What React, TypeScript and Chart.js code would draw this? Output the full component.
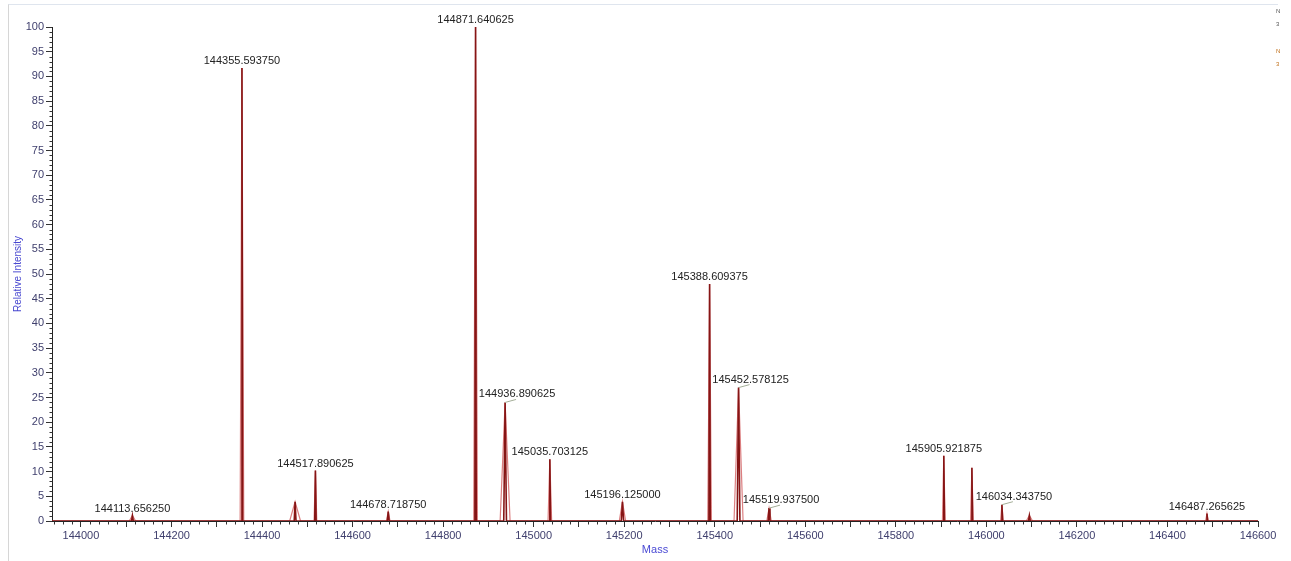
import React, { useEffect, useRef } from "react";
import { Chart, registerables } from "chart.js";

Chart.register(...registerables);

// Peak data
const peakMass = [
  144113.65625, 144355.59375, 144473, 144517.890625, 144678.71875, 144871.640625,
  144936.890625, 145035.703125, 145196.125, 145388.609375, 145452.578125,
  145519.9375, 145905.921875, 145968, 146034.34375, 146095, 146487.265625,
];
const peakHeight = [1.1, 91.7, 3.9, 10.2, 1.9, 100, 24, 12.5, 3.9, 48, 27, 2.6, 13.2, 10.8, 3.3, 1.1, 1.5];
// half width of the profile peak at its base (mass units)
const profileHalfWidth = [7, 4, 12, 3, 4, 4, 11, 4, 7, 4, 10, 5, 3, 3, 3, 7, 3];
// half width of the dark centroid core (mass units)
const coreHalfWidth = [2, 1.5, 2, 1.5, 2, 1.5, 3, 1.5, 2.5, 1.5, 3, 2, 1.5, 1.5, 1.5, 2, 1.5];
const peakLabels = [
  "144113.656250", "144355.593750", "", "144517.890625", "144678.718750", "144871.640625",
  "144936.890625", "145035.703125", "145196.125000", "145388.609375", "145452.578125",
  "145519.937500", "145905.921875", "", "146034.343750", "", "146487.265625",
];
const leaderLabelIdx = [6, 10, 11, 14];

const massMin = 143936;
const massMax = 146600;
const xTickStep = 100;
const xLabelStep = 200;
const yTickStep = 5;

const FONT = "'Liberation Sans', Arial, sans-serif";

function buildSeries(halfWidths: number[]) {
  const pts: { x: number; y: number }[] = [{ x: massMin, y: 0 }];
  peakMass.forEach((m, i) => {
    pts.push({ x: m - halfWidths[i], y: 0 });
    pts.push({ x: m, y: peakHeight[i] });
    pts.push({ x: m + halfWidths[i], y: 0 });
  });
  pts.push({ x: massMax, y: 0 });
  return pts;
}

const decorPlugin = {
  id: "decor",
  afterDatasetsDraw(chart: any) {
    const { ctx, scales } = chart;
    const xs = scales.x;
    const ys = scales.y;
    ctx.save();
    // peak labels
    ctx.font = `11px ${FONT}`;
    ctx.fillStyle = "#222222";
    ctx.textAlign = "center";
    ctx.textBaseline = "alphabetic";
    peakMass.forEach((m, i) => {
      const label = peakLabels[i];
      if (!label) return;
      const px = xs.getPixelForValue(m);
      const py = ys.getPixelForValue(peakHeight[i]);
      if (leaderLabelIdx.includes(i)) {
        ctx.strokeStyle = "#a4ae98";
        ctx.lineWidth = 1;
        ctx.beginPath();
        ctx.moveTo(px, py);
        ctx.lineTo(px + 11, py - 3);
        ctx.stroke();
        ctx.fillText(label, px + 12, py - 5);
      } else {
        ctx.fillText(label, px, py - 4);
      }
    });
    ctx.restore();
  },
  afterDraw(chart: any) {
    const { ctx, scales } = chart;
    const xs = scales.x;
    const ys = scales.y;
    ctx.save();
    ctx.strokeStyle = "#333333";
    ctx.lineWidth = 1;
    // minor y ticks
    const left = Math.round(xs.left) + 0.5;
    for (let v = 1; v < 100; v++) {
      if (v % 5 === 0) continue;
      const py = Math.round(ys.getPixelForValue(v)) + 0.5;
      ctx.beginPath();
      ctx.moveTo(left - 3, py);
      ctx.lineTo(left, py);
      ctx.stroke();
    }
    // minor x ticks
    const bottom = Math.round(ys.bottom) + 0.5;
    for (let v = 143940; v <= massMax; v += 20) {
      if (v % 100 === 0) continue;
      const px = Math.round(xs.getPixelForValue(v)) + 0.5;
      ctx.beginPath();
      ctx.moveTo(px, bottom);
      ctx.lineTo(px, bottom + 3);
      ctx.stroke();
    }
    // cut-off legend text at the top right
    ctx.font = `6px ${FONT}`;
    ctx.textAlign = "left";
    ctx.textBaseline = "middle";
    ctx.fillStyle = "#555555";
    ctx.fillText("N", 1276, 11);
    ctx.fillText("3", 1276, 24);
    ctx.fillStyle = "#c0701a";
    ctx.fillText("N", 1276, 51);
    ctx.fillText("3", 1276, 64);
    ctx.restore();
  },
};

export default function App() {
  const canvasRef = useRef<HTMLCanvasElement | null>(null);

  useEffect(() => {
    if (!canvasRef.current) return;
    const chart = new Chart(canvasRef.current, {
      type: "line",
      data: {
        datasets: [
          {
            label: "Centroid",
            data: buildSeries(coreHalfWidth),
            borderColor: "#861515",
            borderWidth: 1.6,
            pointRadius: 0,
            tension: 0,
            fill: false,
          },
          {
            label: "Profile",
            data: buildSeries(profileHalfWidth),
            borderColor: "#dc7f80",
            borderWidth: 1.2,
            pointRadius: 0,
            tension: 0,
            fill: false,
          },
        ],
      },
      plugins: [decorPlugin],
      options: {
        animation: false,
        responsive: false,
        maintainAspectRatio: false,
        parsing: true,
        layout: { padding: { left: 8, top: 27, right: 33, bottom: 0 } },
        plugins: {
          legend: { display: false },
          tooltip: { enabled: false },
        },
        scales: {
          x: {
            type: "linear",
            min: massMin,
            max: massMax,
            afterFit(scale: any) {
              scale.height = 40;
            },
            ticks: {
              stepSize: xTickStep,
              includeBounds: false,
              autoSkip: false,
              maxRotation: 0,
              minRotation: 0,
              padding: 2,
              color: "#40406e",
              font: { family: FONT, size: 11 },
              callback: (v: any) => (Number(v) % xLabelStep === 0 ? String(v) : ""),
            },
            grid: {
              display: true,
              drawOnChartArea: false,
              drawTicks: true,
              tickLength: 6,
              color: "#333333",
            },
            border: { display: true, color: "#222222", width: 1 },
            title: {
              display: true,
              text: "Mass",
              color: "#4a4ad4",
              font: { family: FONT, size: 11 },
              padding: { top: 0, bottom: 4 },
            },
          },
          y: {
            type: "linear",
            min: 0,
            max: 100,
            afterFit(scale: any) {
              scale.width = 44;
            },
            ticks: {
              stepSize: yTickStep,
              autoSkip: false,
              padding: 2,
              color: "#40406e",
              font: { family: FONT, size: 11 },
            },
            grid: {
              display: true,
              drawOnChartArea: false,
              drawTicks: true,
              tickLength: 6,
              color: "#333333",
            },
            border: { display: true, color: "#222222", width: 1 },
            title: {
              display: true,
              text: "Relative Intensity",
              color: "#4747d0",
              font: { family: FONT, size: 10 },
              padding: { top: 4, bottom: 0 },
            },
          },
        },
      },
    });
    return () => chart.destroy();
  }, []);

  return (
    <div style={{ position: "fixed", left: 0, top: 0, width: 1291, height: 561, background: "#ffffff" }}>
      <div
        style={{
          position: "absolute",
          left: 8,
          top: 4,
          width: 1270,
          height: 557,
          borderTop: "1px solid #dfe5ee",
          borderLeft: "1px solid #d6d6d6",
          boxSizing: "border-box",
        }}
      />
      <canvas
        ref={canvasRef}
        width={1291}
        height={561}
        style={{ position: "absolute", left: 0, top: 0, width: 1291, height: 561 }}
      />
    </div>
  );
}
